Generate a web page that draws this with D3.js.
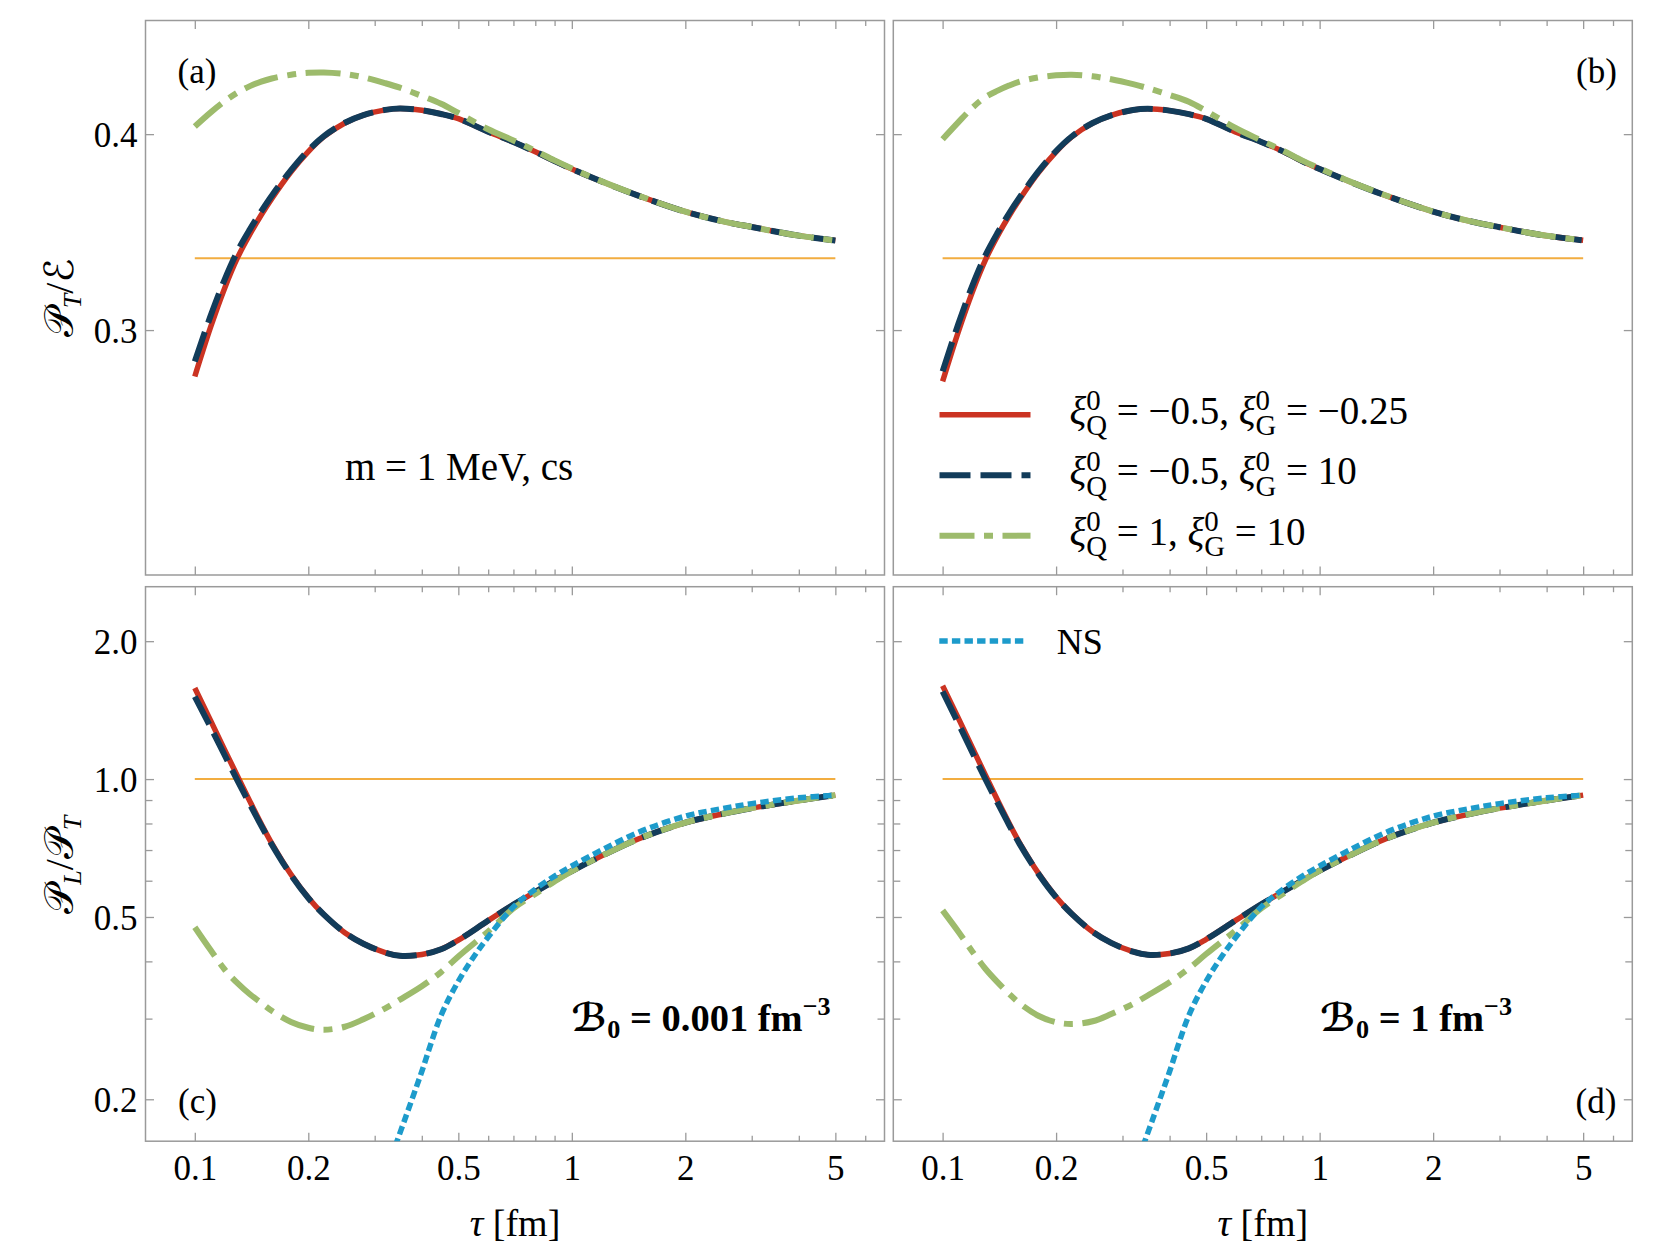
<!DOCTYPE html>
<html>
<head>
<meta charset="utf-8">
<script src="https://cdn.jsdelivr.net/npm/d3@7"></script>
<style>
  body { margin: 0; background: #fff; }
  svg { font-family: "Liberation Serif", "Times New Roman", serif; }
  text { white-space: pre; fill: #000; }
  .frame { fill: none; stroke: #9a9a9a; stroke-width: 1.5; }
  .tick line { stroke: #9a9a9a; stroke-width: 1.3; }
  .domain { display: none; }
</style>
</head>
<body>
<script>
// proper time grid shared by the hydro curves
var tau = [0.1, 0.11, 0.12, 0.13, 0.14, 0.15, 0.16, 0.18, 0.2, 0.22, 0.25, 0.28, 0.32, 0.35,
           0.4, 0.45, 0.5, 0.6, 0.7, 0.8, 0.9, 1.0, 1.2, 1.5, 2.0, 2.5, 3.0, 4.0, 5.0];

// (a) P_T / E, B0 = 0.001
var aRed   = [0.2763, 0.3012, 0.3214, 0.3372, 0.3489, 0.3587, 0.3671, 0.3808, 0.3911, 0.3987, 0.4057, 0.4097, 0.4124, 0.4131,
              0.4122, 0.4103, 0.4079, 0.4012, 0.3960, 0.3910, 0.3863, 0.3822, 0.3758, 0.3686, 0.3604, 0.3556, 0.3526, 0.3482, 0.3457];
var aBlue  = [0.2840, 0.3070, 0.3258, 0.3405, 0.3514, 0.3606, 0.3686, 0.3816, 0.3917, 0.3990, 0.4058, 0.4097, 0.4124, 0.4131,
              0.4122, 0.4103, 0.4079, 0.4012, 0.3960, 0.3910, 0.3863, 0.3822, 0.3758, 0.3686, 0.3604, 0.3556, 0.3526, 0.3482, 0.3457];
var aGreen = [0.4039, 0.4110, 0.4168, 0.4213, 0.4245, 0.4268, 0.4284, 0.4303, 0.4313, 0.4315, 0.4307, 0.4290, 0.4260, 0.4237,
              0.4195, 0.4155, 0.4108, 0.4025, 0.3968, 0.3915, 0.3866, 0.3825, 0.3759, 0.3687, 0.3604, 0.3556, 0.3526, 0.3482, 0.3457];

// (b) P_T / E, B0 = 1
var bRed   = [0.2738, 0.2990, 0.3196, 0.3360, 0.3482, 0.3582, 0.3667, 0.3806, 0.3910, 0.3986, 0.4056, 0.4096, 0.4123, 0.4129,
              0.4120, 0.4102, 0.4078, 0.4010, 0.3960, 0.3912, 0.3862, 0.3822, 0.3758, 0.3686, 0.3605, 0.3556, 0.3525, 0.3481, 0.3458];
var bBlue  = [0.2789, 0.3030, 0.3228, 0.3383, 0.3498, 0.3595, 0.3677, 0.3812, 0.3914, 0.3988, 0.4057, 0.4096, 0.4123, 0.4129,
              0.4120, 0.4102, 0.4078, 0.4010, 0.3960, 0.3912, 0.3862, 0.3822, 0.3758, 0.3686, 0.3605, 0.3556, 0.3525, 0.3481, 0.3458];
var bGreen = [0.3974, 0.4060, 0.4135, 0.4190, 0.4222, 0.4248, 0.4268, 0.4290, 0.4300, 0.4303, 0.4295, 0.4280, 0.4255, 0.4235,
              0.4200, 0.4165, 0.4118, 0.4030, 0.3968, 0.3915, 0.3865, 0.3825, 0.3759, 0.3687, 0.3605, 0.3556, 0.3525, 0.3481, 0.3458];

// (c) P_L / P_T, B0 = 0.001
var cRed   = [1.580, 1.345, 1.158, 1.012, 0.894, 0.799, 0.724, 0.619, 0.551, 0.506, 0.462, 0.437, 0.418, 0.4115,
              0.414, 0.425, 0.445, 0.491, 0.532, 0.567, 0.600, 0.630, 0.680, 0.740, 0.803, 0.839, 0.864, 0.898, 0.9225];
var cBlue  = [1.514, 1.300, 1.128, 0.990, 0.881, 0.792, 0.720, 0.617, 0.550, 0.506, 0.462, 0.437, 0.418, 0.4115,
              0.414, 0.425, 0.445, 0.491, 0.532, 0.567, 0.600, 0.630, 0.680, 0.740, 0.803, 0.839, 0.864, 0.898, 0.9225];
var cGreen = [0.475, 0.424, 0.384, 0.358, 0.339, 0.325, 0.312, 0.295, 0.2865, 0.2837, 0.288, 0.299, 0.316, 0.330,
              0.353, 0.379, 0.410, 0.465, 0.522, 0.561, 0.598, 0.630, 0.680, 0.740, 0.803, 0.839, 0.864, 0.898, 0.9225];

// (d) P_L / P_T, B0 = 1
var dRed   = [1.598, 1.360, 1.170, 1.018, 0.898, 0.802, 0.726, 0.621, 0.553, 0.508, 0.464, 0.439, 0.420, 0.4135,
              0.416, 0.427, 0.447, 0.492, 0.533, 0.568, 0.601, 0.631, 0.681, 0.741, 0.803, 0.839, 0.864, 0.898, 0.9225];
var dBlue  = [1.553, 1.325, 1.142, 0.998, 0.886, 0.795, 0.722, 0.619, 0.552, 0.508, 0.464, 0.439, 0.420, 0.4135,
              0.416, 0.427, 0.447, 0.492, 0.533, 0.568, 0.601, 0.631, 0.681, 0.741, 0.803, 0.839, 0.864, 0.898, 0.9225];
var dGreen = [0.517, 0.465, 0.420, 0.385, 0.360, 0.340, 0.324, 0.304, 0.2945, 0.2920, 0.296, 0.307, 0.323, 0.337,
              0.360, 0.386, 0.415, 0.468, 0.522, 0.562, 0.599, 0.631, 0.681, 0.741, 0.803, 0.839, 0.864, 0.898, 0.9225];

// Navier-Stokes curve (same in c and d)
var nsTau = [0.34, 0.36, 0.38, 0.4, 0.45, 0.5, 0.55, 0.6, 0.7, 0.8, 0.9, 1.0, 1.2, 1.5, 2.0, 2.5, 3.0, 4.0, 5.0];
var ns    = [0.158, 0.180, 0.204, 0.230, 0.305, 0.362, 0.410, 0.452, 0.526, 0.575, 0.614, 0.646, 0.700, 0.765, 0.830, 0.862, 0.884, 0.910, 0.9225];

// reference lines
var refTau = [0.1, 5];
var refTop = 0.3367, refBottom = 1.0;

// ticks
var xMajor = [0.1, 0.2, 0.5, 1, 2, 5];
var xMinor = [0.3, 0.4, 0.6, 0.7, 0.8, 0.9, 3, 4, 6];
var yTopMajor = [0.3, 0.4];
var yBotMajor = [0.2, 0.5, 1, 2];
var yBotMinor = [0.3, 0.4, 0.6, 0.7, 0.8, 0.9];

var legendLabels = [
  ["−0.5", "−0.25"],
  ["−0.5", "10"],
  ["1", "10"]
];

var col = { red: "#cb3322", blue: "#123c5a", green: "#9dbb6c", ns: "#1d9bcb", orange: "#f2ad40" };
var style = {
  red:   { c: col.red,   w: 5.5, dash: null },
  blue:  { c: col.blue,  w: 6,   dash: "31 10" },
  green: { c: col.green, w: 6,   dash: "35 9.5 9 9.5" },
  ns:    { c: col.ns,    w: 5.5, dash: "8.4 4.2" }
};

var W = 1667, H = 1246;
var colX = [145.5, 893.3], rowY = [20.5, 586.7];
var pw = 739, ph = 554.5;
var SCRIPT = '"DejaVu Serif", "DejaVu Sans", serif';

var svg = d3.select("body").append("svg").attr("width", W).attr("height", H);

var x = d3.scaleLog().domain([0.074, 6.75]).range([0, pw]);
var yTop = d3.scaleLinear().domain([0.175, 0.458]).range([ph, 0]);
var yBot = d3.scaleLog().domain([0.162, 2.63]).range([ph, 0]);

function zip(t, v) { return t.map(function(d, i) { return [d, v[i]]; }); }

var panels = [
  { id: "a", c: 0, r: 0, y: yTop, ref: refTop, lines: [["red", aRed], ["blue", aBlue], ["green", aGreen]] },
  { id: "b", c: 1, r: 0, y: yTop, ref: refTop, lines: [["red", bRed], ["blue", bBlue], ["green", bGreen]] },
  { id: "c", c: 0, r: 1, y: yBot, ref: refBottom, lines: [["red", cRed], ["blue", cBlue], ["green", cGreen]], ns: true },
  { id: "d", c: 1, r: 1, y: yBot, ref: refBottom, lines: [["red", dRed], ["blue", dBlue], ["green", dGreen]], ns: true }
];

// one text element, tspans placed piece by piece (handles stacked sub/superscripts)
function rich(g, x0, y0, parts, size, weight, smallScale) {
  var txt = g.append("text").style("font-size", size + "px").style("font-weight", weight || null);
  var cx = x0;
  var small = size * (smallScale || 0.72);
  parts.forEach(function(p) {
    if (p.sup !== undefined || p.sub !== undefined) {
      var w = 0;
      if (p.sup !== undefined) {
        var s = txt.append("tspan").attr("x", cx).attr("y", y0 - size * (p.rise || 0.3))
          .style("font-size", small + "px").text(p.sup);
        w = Math.max(w, s.node().getComputedTextLength());
      }
      if (p.sub !== undefined) {
        var b = txt.append("tspan").attr("x", cx).attr("y", y0 + size * (p.subDrop || 0.27))
          .style("font-size", small + "px").style("font-style", p.it ? "italic" : null).text(p.sub);
        w = Math.max(w, b.node().getComputedTextLength());
      }
      cx += w;
    } else {
      var t = txt.append("tspan").attr("x", cx).attr("y", y0)
        .style("font-style", p.it ? "italic" : null)
        .style("font-family", p.script ? SCRIPT : null).text(p.t);
      cx += t.node().getComputedTextLength();
    }
  });
  return txt;
}

function center(txt) {
  var bb = txt.node().getBBox();
  txt.selectAll("tspan").attr("x", function() { return +d3.select(this).attr("x") - bb.width / 2; });
}

var defs = svg.append("defs");

panels.forEach(function(p) {
  var g = svg.append("g").attr("transform", "translate(" + colX[p.c] + "," + rowY[p.r] + ")");
  var y = p.y;

  defs.append("clipPath").attr("id", "clip" + p.id)
    .append("rect").attr("width", pw).attr("height", ph);

  // ticks on all four sides, labels only on the outer ones
  var bottomRow = p.r === 1, leftCol = p.c === 0;
  var fmtX = function(d) { return String(d); };
  var fmtY = d3.format(".1f");

  var ax = g.append("g").attr("transform", "translate(0," + ph + ")")
    .call(d3.axisBottom(x).tickValues(xMajor).tickSize(-8.5).tickFormat(bottomRow ? fmtX : ""));
  ax.selectAll("text").attr("y", 39).attr("dy", null).style("font-size", "35px");
  g.append("g").attr("transform", "translate(0," + ph + ")")
    .call(d3.axisBottom(x).tickValues(xMinor).tickSize(-5.5).tickFormat(""));
  g.append("g").call(d3.axisTop(x).tickValues(xMajor).tickSize(-8.5).tickFormat(""));
  g.append("g").call(d3.axisTop(x).tickValues(xMinor).tickSize(-5.5).tickFormat(""));

  var yMaj = p.r === 0 ? yTopMajor : yBotMajor;
  var ay = g.append("g").call(d3.axisLeft(y).tickValues(yMaj).tickSize(-8.5).tickPadding(8)
    .tickFormat(leftCol ? fmtY : ""));
  ay.selectAll("text").attr("dy", "0.36em").style("font-size", "35px");
  g.append("g").attr("transform", "translate(" + pw + ",0)")
    .call(d3.axisRight(y).tickValues(yMaj).tickSize(-8.5).tickFormat(""));
  if (p.r === 1) {
    g.append("g").call(d3.axisLeft(y).tickValues(yBotMinor).tickSize(-7).tickFormat(""));
    g.append("g").attr("transform", "translate(" + pw + ",0)")
      .call(d3.axisRight(y).tickValues(yBotMinor).tickSize(-7).tickFormat(""));
  }
  g.selectAll(".tick text").attr("fill", "#000").style("font-family", '"Liberation Serif", serif');

  g.append("rect").attr("class", "frame").attr("width", pw).attr("height", ph);

  var plot = g.append("g").attr("clip-path", "url(#clip" + p.id + ")");

  plot.append("line")
    .attr("x1", x(refTau[0])).attr("x2", x(refTau[1]))
    .attr("y1", y(p.ref)).attr("y2", y(p.ref))
    .attr("stroke", col.orange).attr("stroke-width", 2);

  var line = d3.line()
    .x(function(d) { return x(d[0]); })
    .y(function(d) { return y(d[1]); })
    .curve(d3.curveCatmullRom.alpha(0.5));

  var series = p.lines.map(function(l) { return { s: style[l[0]], pts: zip(tau, l[1]) }; });
  if (p.ns) series.push({ s: style.ns, pts: zip(nsTau, ns) });

  plot.selectAll("path.curve").data(series).enter().append("path")
    .attr("class", "curve")
    .attr("d", function(d) { return line(d.pts); })
    .attr("fill", "none")
    .attr("stroke", function(d) { return d.s.c; })
    .attr("stroke-width", function(d) { return d.s.w; })
    .attr("stroke-dasharray", function(d) { return d.s.dash; });
});

// panel tags
function tag(t, px, py, anchor) {
  svg.append("text").attr("x", px).attr("y", py).attr("text-anchor", anchor)
    .style("font-size", "35px").text(t);
}
tag("(a)", colX[0] + 32, rowY[0] + 62.5, "start");
tag("(b)", colX[1] + pw - 15.5, rowY[0] + 62.5, "end");
tag("(c)", colX[0] + 32.5, rowY[1] + ph - 28, "start");
tag("(d)", colX[1] + pw - 16, rowY[1] + ph - 28, "end");

// annotation in (a)
svg.append("text").attr("x", 345).attr("y", 480).style("font-size", "39px").text("m = 1 MeV, cs");

// B0 annotations
var bLabels = [["0.001", colX[0] + 426], ["1", colX[1] + 427]];
bLabels.forEach(function(b) {
  rich(svg, b[1], 1030.7, [
    { t: "ℬ", script: true },
    { sub: "0", subDrop: 0.2 },
    { t: " = " + b[0] + " fm" },
    { sup: "−3", rise: 0.4 }
  ], 38.5, "bold", 0.68);
});

// legend in (b)
["red", "blue", "green"].forEach(function(k, i) {
  var ly = 414.7 + i * 60.5;
  svg.append("line").attr("x1", 939.5).attr("x2", 1030.5).attr("y1", ly).attr("y2", ly)
    .attr("stroke", style[k].c).attr("stroke-width", style[k].w)
    .attr("stroke-dasharray", style[k].dash);
  rich(svg, 1069.5, ly + 9, [
    { t: "ξ", it: true }, { sup: "0", sub: "Q", subDrop: 0.3, rise: 0.34 },
    { t: " = " + legendLabels[i][0] + ", " },
    { t: "ξ", it: true }, { sup: "0", sub: "G", subDrop: 0.3, rise: 0.34 },
    { t: " = " + legendLabels[i][1] }
  ], 39, null, 0.74);
});

// NS legend in (d)
svg.append("line").attr("x1", 939.3).attr("x2", 1027.5).attr("y1", 641).attr("y2", 641)
  .attr("stroke", style.ns.c).attr("stroke-width", style.ns.w).attr("stroke-dasharray", style.ns.dash);
svg.append("text").attr("x", 1056.7).attr("y", 654).style("font-size", "36px").text("NS");

// axis titles
[0, 1].forEach(function(c) {
  var g = svg.append("g").attr("transform", "translate(" + (colX[c] + pw / 2) + ",1236)");
  center(rich(g, 0, 0, [{ t: "τ", it: true }, { t: " [fm]" }], 38));
});

var yl1 = svg.append("g").attr("transform", "translate(73," + (rowY[0] + ph / 2) + ") rotate(-90)");
center(rich(yl1, 0, 0, [{ t: "𝒫", script: true }, { sub: "T", it: true, subDrop: 0.2 }, { t: "/" },
  { t: "ℰ", script: true }], 40, null, 0.65));

var yl2 = svg.append("g").attr("transform", "translate(73," + (rowY[1] + ph / 2) + ") rotate(-90)");
center(rich(yl2, 0, 0, [{ t: "𝒫", script: true }, { sub: "L", it: true, subDrop: 0.2 }, { t: "/" },
  { t: "𝒫", script: true }, { sub: "T", it: true, subDrop: 0.2 }], 40, null, 0.65));
</script>
</body>
</html>
